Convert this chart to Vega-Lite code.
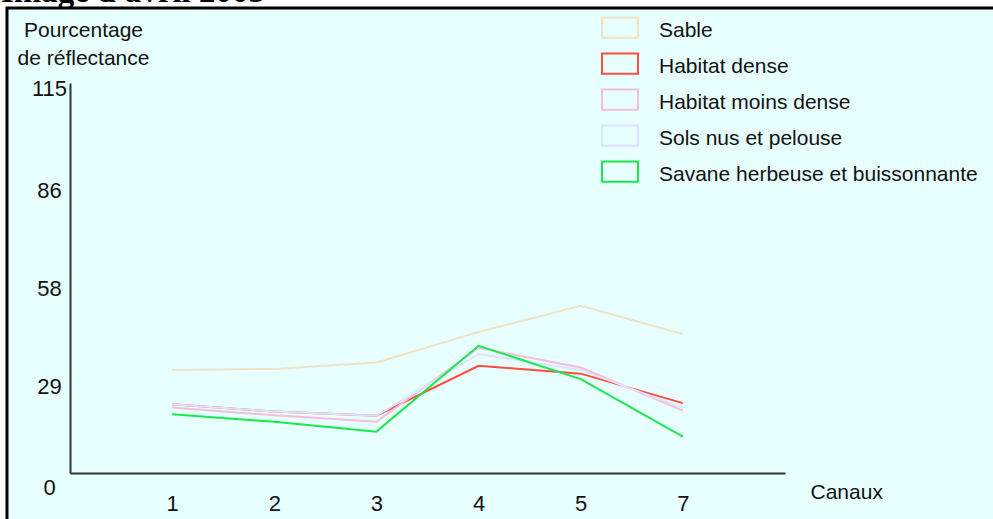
{
  "$schema": "https://vega.github.io/schema/vega-lite/v6.json",
  "autosize": {"type": "none"},
  "padding": {"left": 7, "top": 8, "right": 0, "bottom": 0},
  "width": 986,
  "height": 511,
  "background": "white",
  "title": {
    "text": "Image d'avril 2003",
    "anchor": "start",
    "font": "Liberation Serif",
    "fontSize": 33,
    "fontWeight": "bold",
    "color": "black",
    "baseline": "alphabetic",
    "offset": 0,
    "dy": 27,
    "dx": -6
  },
  "config": {
    "view": {"fill": "#E8FFFF", "stroke": "black", "strokeWidth": 3, "strokeDash": [986, 1497, 511]},
    "font": "Liberation Sans"
  },
  "data": {
    "values": [
      {"canal": "1", "classe": "Sable", "reflectance": 30.4},
      {"canal": "2", "classe": "Sable", "reflectance": 30.7},
      {"canal": "3", "classe": "Sable", "reflectance": 32.6},
      {"canal": "4", "classe": "Sable", "reflectance": 41.6},
      {"canal": "5", "classe": "Sable", "reflectance": 49.3},
      {"canal": "7", "classe": "Sable", "reflectance": 41.0},
      {"canal": "1", "classe": "Habitat dense", "reflectance": 20.3},
      {"canal": "2", "classe": "Habitat dense", "reflectance": 18.1},
      {"canal": "3", "classe": "Habitat dense", "reflectance": 16.9},
      {"canal": "4", "classe": "Habitat dense", "reflectance": 31.6},
      {"canal": "5", "classe": "Habitat dense", "reflectance": 29.3},
      {"canal": "7", "classe": "Habitat dense", "reflectance": 20.6},
      {"canal": "1", "classe": "Habitat moins dense", "reflectance": 19.3},
      {"canal": "2", "classe": "Habitat moins dense", "reflectance": 17.0},
      {"canal": "3", "classe": "Habitat moins dense", "reflectance": 15.1},
      {"canal": "4", "classe": "Habitat moins dense", "reflectance": 36.9},
      {"canal": "5", "classe": "Habitat moins dense", "reflectance": 31.1},
      {"canal": "7", "classe": "Habitat moins dense", "reflectance": 18.4},
      {"canal": "1", "classe": "Sols nus et pelouse", "reflectance": 20.3},
      {"canal": "2", "classe": "Sols nus et pelouse", "reflectance": 18.1},
      {"canal": "3", "classe": "Sols nus et pelouse", "reflectance": 16.9},
      {"canal": "4", "classe": "Sols nus et pelouse", "reflectance": 35.1},
      {"canal": "5", "classe": "Sols nus et pelouse", "reflectance": 30.4},
      {"canal": "7", "classe": "Sols nus et pelouse", "reflectance": 19.2},
      {"canal": "1", "classe": "Savane herbeuse et buissonnante", "reflectance": 17.3},
      {"canal": "2", "classe": "Savane herbeuse et buissonnante", "reflectance": 15.1},
      {"canal": "3", "classe": "Savane herbeuse et buissonnante", "reflectance": 12.2},
      {"canal": "4", "classe": "Savane herbeuse et buissonnante", "reflectance": 37.5},
      {"canal": "5", "classe": "Savane herbeuse et buissonnante", "reflectance": 27.7},
      {"canal": "7", "classe": "Savane herbeuse et buissonnante", "reflectance": 10.7}
    ]
  },
  "mark": {"type": "line", "strokeWidth": 2},
  "encoding": {
    "x": {
      "field": "canal",
      "type": "ordinal",
      "sort": ["1", "2", "3", "4", "5", "7"],
      "scale": {"type": "point", "range": [63, 778], "padding": 1},
      "axis": {
        "orient": "bottom",
        "offset": -46,
        "title": "Canaux",
        "titleX": 803,
        "titleY": 25,
        "titleAlign": "left",
        "titleBaseline": "alphabetic",
        "titleFontSize": 21,
        "titleFontWeight": "normal",
        "titleColor": "#111111",
        "titleFont": "Liberation Sans",
        "labelAngle": 0,
        "labelFontSize": 22,
        "labelColor": "#111111",
        "labelBaseline": "top",
        "labelPadding": 20,
        "ticks": false,
        "tickSize": 0,
        "grid": false,
        "domainColor": "#333333",
        "domainWidth": 2
      }
    },
    "y": {
      "field": "reflectance",
      "type": "quantitative",
      "scale": {"domain": [0, 115], "range": [465, 75], "nice": false, "zero": true},
      "axis": {
        "orient": "left",
        "offset": -63,
        "values": [0, 29, 58, 86, 115],
        "title": ["Pourcentage", "de réflectance"],
        "titleAngle": 0,
        "titleX": 13,
        "titleY": 11,
        "titleAlign": "center",
        "titleBaseline": "top",
        "titleLineHeight": 28,
        "titleFontSize": 21,
        "titleFontWeight": "normal",
        "titleColor": "#111111",
        "titleFont": "Liberation Sans",
        "labelFontSize": 22,
        "labelColor": "#111111",
        "labelAlign": "center",
        "labelBaseline": "middle",
        "labelPadding": 21,
        "labelOffset": {
          "condition": [
            {"test": "datum.value === 115", "value": 5},
            {"test": "datum.value === 86", "value": 9},
            {"test": "datum.value === 58", "value": 12},
            {"test": "datum.value === 29", "value": 12}
          ],
          "value": 14
        },
        "ticks": false,
        "tickSize": 0,
        "grid": false,
        "domainColor": "#333333",
        "domainWidth": 2
      }
    },
    "color": {
      "field": "classe",
      "type": "nominal",
      "scale": {
        "domain": ["Sable", "Habitat dense", "Habitat moins dense", "Sols nus et pelouse", "Savane herbeuse et buissonnante"],
        "range": ["#EFE3C5", "#FF4D3D", "#F5BDD9", "#DCE3FF", "#1AE84F"]
      },
      "legend": {
        "orient": "none",
        "legendX": 594,
        "legendY": 4,
        "title": null,
        "padding": 0,
        "symbolType": "M-1,-0.75H1V0.37H-1Z",
        "symbolSize": 1296,
        "symbolStrokeWidth": 2,
        "symbolFillColor": "transparent",
        "labelFontSize": 21,
        "labelColor": "#111111",
        "labelFont": "Liberation Sans",
        "labelOffset": 20,
        "labelLimit": 400,
        "rowPadding": 6
      }
    }
  }
}
